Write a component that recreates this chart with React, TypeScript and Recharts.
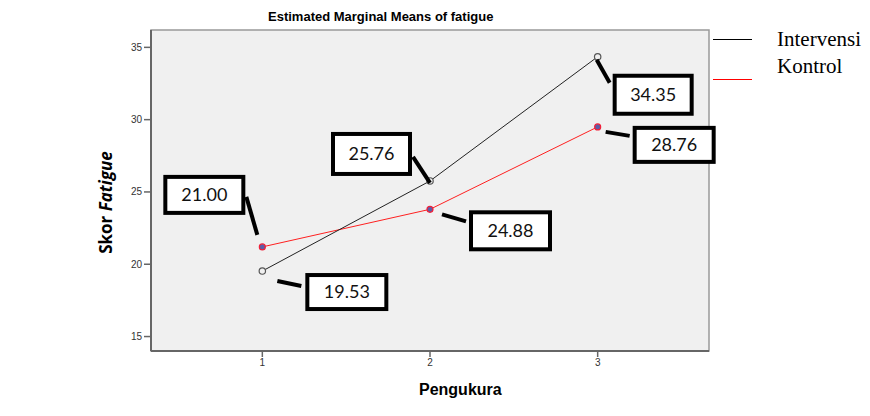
import { LineChart, Line, XAxis, YAxis, ReferenceArea, LabelList } from "recharts";

const pengukuran = [1, 2, 3];
const intervensi = [19.53, 25.76, 34.35];
const kontrol = [21.2, 23.8, 29.5];
const intervensiLabels = ["19.53", "25.76", "34.35"];
const kontrolLabels = ["21.00", "24.88", "28.76"];
const yTicks = [15, 20, 25, 30, 35];

const data = pengukuran.map((p, i) => ({
  pengukuran: p,
  intervensi: intervensi[i],
  kontrol: kontrol[i],
}));

// callout layout relative to the point: box [x0, y0, x1, y1], leader [x0, y0, x1, y1]
const intervensiCallouts = [
  { box: [45, 4, 124, 38], lead: [15, 10, 39, 15] },
  { box: [-97, -47, -20, -7], lead: [-17, -24, 0, 2] },
  { box: [17, 19, 94, 57], lead: [-1, 3, 12, 26] },
];
const kontrolCallouts = [
  { box: [-97, -70, -19, -34], lead: [-16, -50, -5, -12] },
  { box: [41, 3, 120, 40], lead: [12, 5, 36, 12] },
  { box: [37, 1, 116, 35], lead: [8, 5, 32, 9] },
];

const makeCallout = (texts: string[], layout: any[]) => (props: any) => {
  const { x, y, index } = props;
  const c = layout[index];
  if (!c) return null;
  const [bx0, by0, bx1, by1] = c.box;
  const [lx0, ly0, lx1, ly1] = c.lead;
  return (
    <g key={index}>
      <line x1={x + lx0} y1={y + ly0} x2={x + lx1} y2={y + ly1} stroke="#000" strokeWidth={4} />
      <rect x={x + bx0} y={y + by0} width={bx1 - bx0} height={by1 - by0} fill="#fff" stroke="#000" strokeWidth={4} />
      <text
        x={x + (bx0 + bx1) / 2}
        y={y + (by0 + by1) / 2 + 6}
        textAnchor="middle"
        fontFamily="Lato, sans-serif"
        fontSize={18}
        fill="#111"
      >
        {texts[index]}
      </text>
    </g>
  );
};

const OpenDot = (props: any) => {
  const { cx, cy, index } = props;
  return <circle key={index} cx={cx} cy={cy} r={3.2} fill="#f0f0f0" stroke="#555" strokeWidth={1.2} />;
};

const FilledDot = (props: any) => {
  const { cx, cy, index } = props;
  return <circle key={index} cx={cx} cy={cy} r={3} fill="#5a5fa8" stroke="#f0203a" strokeWidth={1.2} />;
};

const legendItems = [
  { name: "Intervensi", color: "#000000" },
  { name: "Kontrol", color: "#ff0000" },
];

export default function App() {
  return (
    <div style={{ position: "absolute", left: 0, top: 0, width: 870, height: 416, background: "#fff" }}>
      <div
        style={{
          position: "absolute",
          left: 268,
          top: 9,
          fontFamily: "Liberation Sans, Arial, sans-serif",
          fontWeight: "bold",
          fontSize: 13,
          whiteSpace: "nowrap",
        }}
      >
        Estimated Marginal Means of fatigue
      </div>
      <LineChart width={870} height={416} data={data} margin={{ top: 30, right: 161, bottom: 35, left: 111 }}>
        <XAxis
          dataKey="pengukuran"
          type="number"
          domain={[0.336, 3.664]}
          ticks={pengukuran}
          height={30}
          axisLine={{ stroke: "#666", strokeWidth: 2 }}
          tickLine={{ stroke: "#666", strokeWidth: 1.5 }}
          tickSize={6}
          tick={{ fontSize: 10, fill: "#333", fontFamily: "Liberation Sans, Arial" }}
        />
        <YAxis
          type="number"
          domain={[14.0, 36.2]}
          ticks={yTicks}
          width={40}
          axisLine={{ stroke: "#666", strokeWidth: 2 }}
          tickLine={{ stroke: "#666", strokeWidth: 1.5 }}
          tickSize={7}
          tick={{ fontSize: 10, fill: "#333", fontFamily: "Liberation Sans, Arial" }}
        />
        <ReferenceArea x1={0.336} x2={3.664} y1={14.0} y2={36.2} fill="#f0f0f0" fillOpacity={1} stroke="#999" strokeWidth={1.5} />
        <Line
          dataKey="kontrol"
          stroke="#ff2020"
          strokeWidth={1}
          dot={FilledDot}
          activeDot={false}
          isAnimationActive={false}
        >
          <LabelList dataKey="kontrol" content={makeCallout(kontrolLabels, kontrolCallouts)} />
        </Line>
        <Line
          dataKey="intervensi"
          stroke="#222"
          strokeWidth={1}
          dot={OpenDot}
          activeDot={false}
          isAnimationActive={false}
        >
          <LabelList dataKey="intervensi" content={makeCallout(intervensiLabels, intervensiCallouts)} />
        </Line>
      </LineChart>
      <div
        style={{
          position: "absolute",
          left: 47,
          top: 191,
          width: 116,
          transform: "rotate(-90deg)",
          textAlign: "center",
          fontFamily: "Open Sans, sans-serif",
          fontWeight: "bold",
          fontSize: 17,
          whiteSpace: "nowrap",
        }}
      >
        Skor <i>Fatigue</i>
      </div>
      <div
        style={{
          position: "absolute",
          left: 419,
          top: 381,
          fontFamily: "Liberation Sans, Arial, sans-serif",
          fontWeight: "bold",
          fontSize: 16,
        }}
      >
        Pengukura
      </div>
      <svg style={{ position: "absolute", left: 710, top: 30 }} width={50} height={60}>
        {legendItems.map((item, i) => (
          <line key={item.name} x1={3} x2={42} y1={9.5 + i * 40} y2={9.5 + i * 40} stroke={item.color} strokeWidth={1.2} />
        ))}
      </svg>
      {legendItems.map((item, i) => (
        <div
          key={item.name}
          style={{
            position: "absolute",
            left: 777,
            top: 27 + i * 27,
            fontFamily: "Liberation Serif, Times New Roman, serif",
            fontSize: 21,
            whiteSpace: "nowrap",
          }}
        >
          {item.name}
        </div>
      ))}
    </div>
  );
}
